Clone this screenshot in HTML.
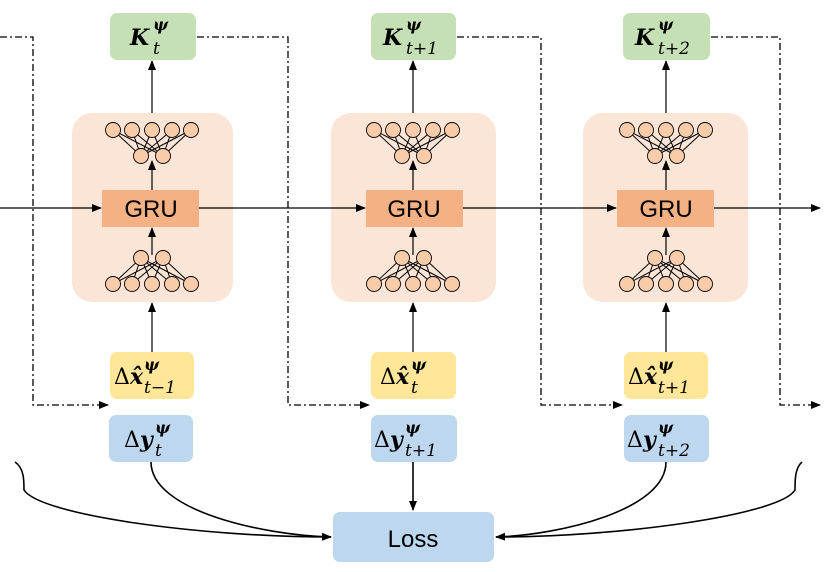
<!DOCTYPE html>
<html><head><meta charset="utf-8"><style>
body{margin:0;background:#fff;}
svg{display:block;}
.m{font-family:"DejaVu Serif","Liberation Serif",serif;font-weight:bold;}
</style></head><body>
<svg width="830" height="572" viewBox="0 0 830 572" xmlns="http://www.w3.org/2000/svg">
<defs>
<marker id="a" markerWidth="10" markerHeight="10" refX="9" refY="5" orient="auto" markerUnits="userSpaceOnUse"><path d="M0,1 L10,5 L0,9 Z" fill="#000"/></marker>
<g id="net">
<g stroke="#000" stroke-width="1" fill="none">
<path d="M-39,17 L-11,43 M-39,17 L11,43 M-20,17 L-11,43 M-20,17 L11,43 M0,17 L-11,43 M0,17 L11,43 M20,17 L-11,43 M20,17 L11,43 M39,17 L-11,43 M39,17 L11,43"/>
<path d="M-39,171 L-11,145 M-39,171 L11,145 M-20,171 L-11,145 M-20,171 L11,145 M0,171 L-11,145 M0,171 L11,145 M20,171 L-11,145 M20,171 L11,145 M39,171 L-11,145 M39,171 L11,145"/>
</g>
<g fill="#f8cba9" stroke="#000" stroke-width="0.9">
<circle cx="-39" cy="17" r="7.5"/><circle cx="-20" cy="17" r="7.5"/><circle cx="0" cy="17" r="7.5"/><circle cx="20" cy="17" r="7.5"/><circle cx="39" cy="17" r="7.5"/>
<circle cx="-11" cy="43" r="7.5"/><circle cx="11" cy="43" r="7.5"/>
<circle cx="-11" cy="145" r="7.5"/><circle cx="11" cy="145" r="7.5"/>
<circle cx="-39" cy="171" r="7.5"/><circle cx="-20" cy="171" r="7.5"/><circle cx="0" cy="171" r="7.5"/><circle cx="20" cy="171" r="7.5"/><circle cx="39" cy="171" r="7.5"/>
</g>
</g>
</defs>

<rect x="72" y="113" width="161" height="189" rx="20" fill="#fbe5d6"/>
<rect x="331" y="113" width="165" height="189" rx="20" fill="#fbe5d6"/>
<rect x="583" y="113" width="165" height="189" rx="20" fill="#fbe5d6"/>

<g stroke="#000" stroke-width="1.2" marker-end="url(#a)">
<line x1="152" y1="113" x2="152" y2="61"/>
<line x1="413" y1="113" x2="413" y2="61"/>
<line x1="666" y1="113" x2="666" y2="61"/>
<line x1="152" y1="352" x2="152" y2="303"/>
<line x1="413" y1="352" x2="413" y2="303"/>
<line x1="666" y1="352" x2="666" y2="303"/>
<line x1="152" y1="255" x2="152" y2="228"/>
<line x1="413" y1="255" x2="413" y2="228"/>
<line x1="666" y1="255" x2="666" y2="228"/>
<line x1="152" y1="190" x2="152" y2="161"/>
<line x1="413" y1="190" x2="413" y2="161"/>
<line x1="666" y1="190" x2="666" y2="161"/>
</g>
<use href="#net" x="152" y="113"/>
<use href="#net" x="413" y="113"/>
<use href="#net" x="666" y="113"/>

<g fill="#f4b183">
<rect x="102" y="190" width="97" height="37"/>
<rect x="366" y="190" width="97" height="37"/>
<rect x="617" y="190" width="97" height="37"/>
</g>
<g font-family="Liberation Sans, sans-serif" font-size="24" text-anchor="middle">
<text x="151" y="217">GRU</text><text x="414" y="217">GRU</text><text x="666" y="217">GRU</text>
</g>
<g stroke="#000" stroke-width="1.3" marker-end="url(#a)">
<line x1="0" y1="208" x2="101" y2="208"/>
<line x1="199" y1="208" x2="365" y2="208"/>
<line x1="463" y1="208" x2="616" y2="208"/>
<line x1="714" y1="208" x2="820" y2="208"/>
</g>

<g stroke="#000" stroke-width="1.3" fill="none" stroke-dasharray="7,3,2,3">
<path d="M0,37 L33,37 L33,405 L108,405" marker-end="url(#a)"/>
<path d="M197,37 L288,37 L288,405 L369,405" marker-end="url(#a)"/>
<path d="M457,37 L541,37 L541,405 L622,405" marker-end="url(#a)"/>
<path d="M711,37 L780,37 L780,405 L820,405" marker-end="url(#a)"/>
</g>

<g fill="#c5e0b4">
<rect x="110" y="13" width="86" height="47" rx="7"/>
<rect x="371" y="13" width="85" height="47" rx="7"/>
<rect x="623" y="13" width="87" height="47" rx="7"/>
</g>
<g fill="#ffe699">
<rect x="110" y="352" width="84" height="47" rx="7"/>
<rect x="371" y="352" width="85" height="47" rx="7"/>
<rect x="624" y="352" width="84" height="47" rx="7"/>
</g>
<g fill="#bdd7ee">
<rect x="109" y="415" width="84" height="47" rx="7"/>
<rect x="371" y="415" width="86" height="47" rx="7"/>
<rect x="624" y="415" width="85" height="47" rx="7"/>
<rect x="333" y="512" width="161" height="50" rx="7"/>
</g>
<text x="413" y="547" font-family="Liberation Sans, sans-serif" font-size="24" text-anchor="middle">Loss</text>

<g class="m" font-size="22">
<text x="130" y="45" font-style="italic">K</text>
<text x="153" y="30" font-size="16" font-style="italic">ψ</text>
<text x="153" y="54" font-size="17" font-style="italic" font-weight="normal">t</text>

<text x="383" y="45" font-style="italic">K</text>
<text x="406" y="30" font-size="16" font-style="italic">ψ</text>
<text x="406" y="54" font-size="17" font-style="italic" font-weight="normal">t+1</text>

<text x="635" y="45" font-style="italic">K</text>
<text x="658" y="30" font-size="16" font-style="italic">ψ</text>
<text x="658" y="54" font-size="17" font-style="italic" font-weight="normal">t+2</text>

<text x="114" y="384" font-weight="normal">Δ</text><text x="130" y="384" font-style="italic">x̂</text>
<text x="144" y="370" font-size="16" font-style="italic">ψ</text>
<text x="144" y="393" font-size="17" font-style="italic" font-weight="normal">t−1</text>

<text x="380" y="384" font-weight="normal">Δ</text><text x="396" y="384" font-style="italic">x̂</text>
<text x="411" y="370" font-size="16" font-style="italic">ψ</text>
<text x="411" y="393" font-size="17" font-style="italic" font-weight="normal">t</text>

<text x="628" y="384" font-weight="normal">Δ</text><text x="644" y="384" font-style="italic">x̂</text>
<text x="658" y="370" font-size="16" font-style="italic">ψ</text>
<text x="658" y="393" font-size="17" font-style="italic" font-weight="normal">t+1</text>

<text x="124" y="447" font-weight="normal">Δ</text><text x="140" y="447" font-style="italic">y</text>
<text x="155" y="433" font-size="16" font-style="italic">ψ</text>
<text x="155" y="456" font-size="17" font-style="italic" font-weight="normal">t</text>

<text x="374" y="447" font-weight="normal">Δ</text><text x="390" y="447" font-style="italic">y</text>
<text x="405" y="433" font-size="16" font-style="italic">ψ</text>
<text x="405" y="456" font-size="17" font-style="italic" font-weight="normal">t+1</text>

<text x="627" y="447" font-weight="normal">Δ</text><text x="643" y="447" font-style="italic">y</text>
<text x="658" y="433" font-size="16" font-style="italic">ψ</text>
<text x="658" y="456" font-size="17" font-style="italic" font-weight="normal">t+2</text>
</g>

<g stroke="#000" stroke-width="1.6" fill="none">
<path d="M151,462 C151,510 260,535 331,537" marker-end="url(#a)"/>
<path d="M15,462 C24,468 24,480 24,490 C40,515 200,537 331,537"/>
<path d="M413,462 L413,510" marker-end="url(#a)"/>
<path d="M666,462 C666,510 560,535 496,537" marker-end="url(#a)"/>
<path d="M802,462 C795,468 795,480 795,490 C780,515 620,537 496,537"/>
</g>
</svg>
</body></html>
